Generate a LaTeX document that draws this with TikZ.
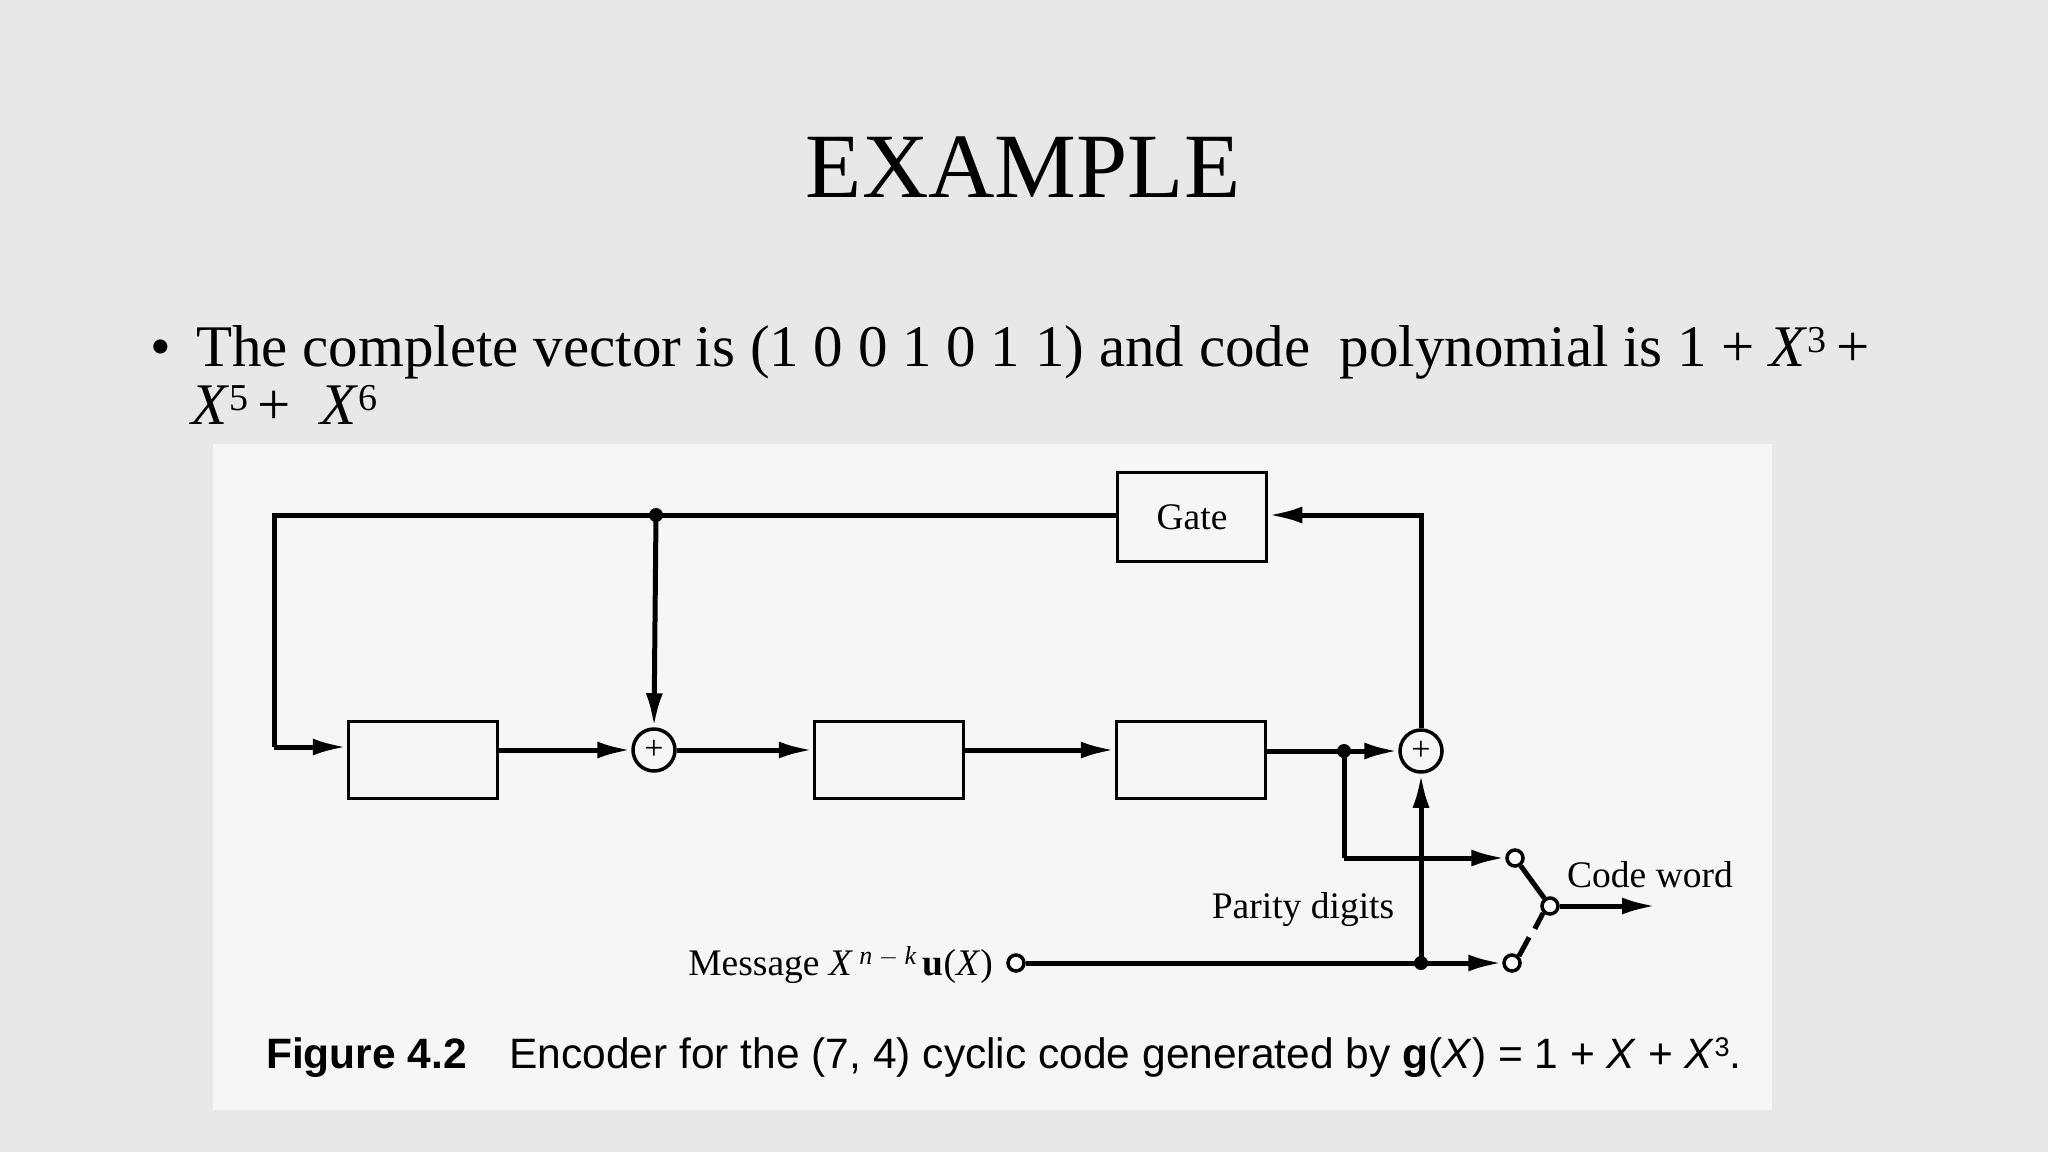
\documentclass[tikz,border=0pt]{standalone}
\usepackage{fontspec}
\setmainfont{Liberation Serif}
\newfontfamily\capfont{Liberation Sans}
\usetikzlibrary{arrows.meta,calc}
\begin{document}
\begin{tikzpicture}[x=1pt,y=-1pt,
  wire/.style={line width=5pt},
  arr/.style={wire,-{Latex[length=34pt,width=17pt]}},
  reg/.style={draw,line width=3.5pt,minimum width=149pt,minimum height=77pt,inner sep=0pt},
  adder/.style={draw,circle,line width=3.5pt,minimum size=42pt,inner sep=0pt,font=\fontsize{34}{34}\selectfont},
  term/.style={draw,circle,line width=3.5pt,fill=white,minimum size=16pt,inner sep=0pt},
  jdot/.style={circle,fill=black,minimum size=14pt,inner sep=0pt},
  lab/.style={font=\fontsize{37.5}{40}\selectfont,inner sep=0pt}]
\fill[gray!18] (0,0) rectangle (2048,1152);
\useasboundingbox (0,0) rectangle (2048,1152);
\fill[gray!7] (213,444) rectangle (1772,1110);
\node[font=\fontsize{92}{92}\selectfont] (title) at (1023,167) {EXAMPLE};
\node[font=\fontsize{59}{62}\selectfont,anchor=base west,inner sep=0pt] (bul) at (150,366) {•};
\node[font=\fontsize{59}{62}\selectfont,anchor=base west,inner sep=0pt] (l1) at (196,366) {The complete vector is (1 0 0 1 0 1 1) and code\ \ polynomial is 1 + \textit{X}\raisebox{0.5ex}{\fontsize{38}{38}\selectfont 3}\,+};
\node[font=\fontsize{59}{62}\selectfont,anchor=base west,inner sep=0pt] (l2) at (191,424) {\textit{X}\raisebox{0.5ex}{\fontsize{38}{38}\selectfont 5}\,+\ \ \textit{X}\raisebox{0.5ex}{\fontsize{38}{38}\selectfont 6}};
% boxes
\node[reg,minimum height=89pt] (gate) at (1192,517) {\fontsize{37.5}{37.5}\selectfont Gate};
\node[reg] (r1) at (423,760) {};
\node[reg] (r2) at (889,760) {};
\node[reg] (r3) at (1191,760) {};
\node[adder] (a1) at (654,750) {+};
\node[adder] (a2) at (1421,751) {+};
\coordinate (tl) at (274,515);
\coordinate (bl) at (274,747);
\node[jdot] (d1) at (656,515) {};
\coordinate (tr) at (1421,515);
\node[jdot] (d2) at (1344,751) {};
\node[term] (up) at (1515,858) {};
\coordinate (d2b) at (1344,858);
\node[term] (lo) at (1512,963) {};
\node[term] (piv) at (1550,906) {};
\coordinate (out) at (1656,906);
\node[term] (msg) at (1016,963) {};
\node[jdot] (d3) at (1421,963) {};
% wires
\draw[arr] (a2.north) -- (tr) -- (gate.east |- tr);
\draw[wire] (gate.west |- tr) -- (tl) -- (bl);
\draw[arr] (bl) -- (r1.west |- bl);
\draw[arr] (d1.center) -- (a1.north);
\draw[arr] (r1.east |- a1) -- (a1.west);
\draw[arr] (a1.east) -- (r2.west |- a1);
\draw[arr] (r2.east |- a1) -- (r3.west |- a1);
\draw[arr] (r3.east |- a2) -- (a2.west);
\draw[wire] (d2.center) -- (d2b);
\draw[arr] (d2b) -- (up.west);
\draw[arr] (msg.east) -- (lo.west);
\draw[arr] (d3.center) -- (a2.south);
\draw[wire] (up) -- (piv);
\draw[wire] (lo.north east) -- ($(lo)!0.45!(piv)$);
\draw[wire] ($(lo)!0.6!(piv)$) -- (piv.south west);
\draw[arr] (piv.east) -- (out);
% labels
\node[lab,anchor=east] (ml) at (993,965) {Message \textit{X}\,\raisebox{0.6ex}{\fontsize{26}{26}\selectfont\textit{n} $-$ \textit{k}}\,\textbf{u}(\textit{X})};
\node[lab,anchor=west] (cw) at (1567,875) {Code word};
\node[lab] (pd) at (1303,910) {Parity digits};
\node[anchor=base west,inner sep=0pt,font=\capfont\fontsize{42.5}{42.5}\selectfont] (cap) at (266,1068) {\textbf{Figure 4.2}\quad Encoder for the (7, 4) cyclic code generated by \textbf{g}(\textit{X}) = 1 + \textit{X} + \textit{X}\raisebox{0.5ex}{\fontsize{27}{27}\selectfont 3}.};
\end{tikzpicture}
\end{document}
